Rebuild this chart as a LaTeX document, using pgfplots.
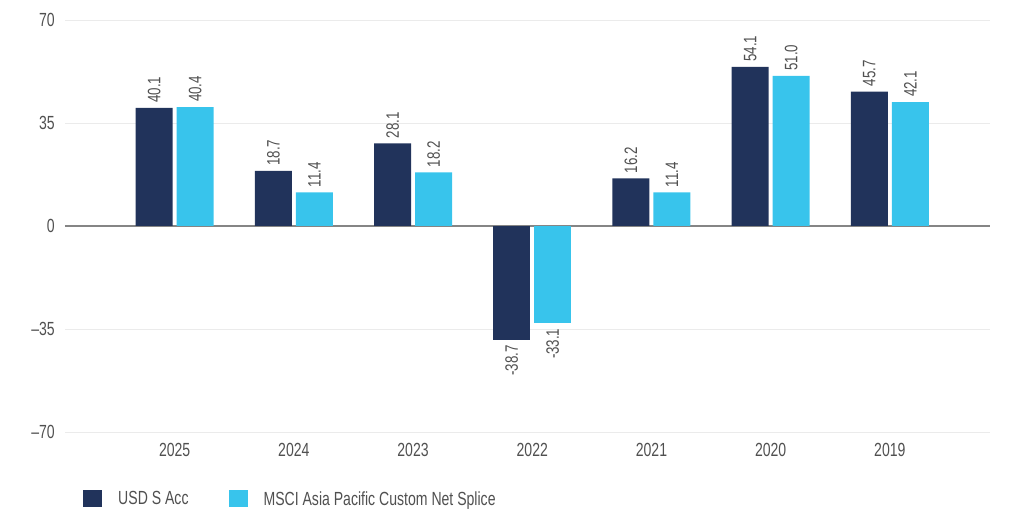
\documentclass[border=0pt]{standalone}
\usepackage{pgfplots}
\pgfplotsset{compat=1.18}
\usepackage{fontspec}
\setmainfont{Liberation Sans}[FakeStretch=0.74]
\definecolor{navy}{HTML}{21335B}
\definecolor{cyanb}{HTML}{38C4EC}
\definecolor{txt}{HTML}{505050}
\definecolor{gridc}{HTML}{EBEBEB}
\definecolor{zeroc}{HTML}{858585}
\begin{document}
\begin{tikzpicture}
\begin{axis}[
  scale only axis,
  width=925pt, height=412pt,
  xmin=-0.92, xmax=6.84,
  ymin=-70, ymax=70,
  ytick={-70,-35,0,35,70},
  yticklabels={{–70},{–35},0,35,70},
  xtick={0,1,2,3,4,5,6},
  xticklabels={2025,2024,2023,2022,2021,2020,2019},
  major tick length=0pt,
  axis line style={draw=none},
  ymajorgrids,
  grid style={gridc, line width=0.8pt},
  extra y ticks={0},
  extra y tick labels={},
  extra y tick style={grid style={zeroc, line width=1.6pt}},
  tick label style={font=\fontsize{19}{22}\selectfont, text=txt},
  yticklabel style={inner sep=0pt, anchor=east, xshift=-10pt},
  xticklabel style={inner sep=0pt, anchor=north, yshift=-11pt},
  /pgf/number format/assume math mode=true,
  ybar, bar width=37pt,
  nodes near coords,
  nodes near coords style={font=\fontsize{18}{20}\selectfont, text=txt, rotate=90, anchor=west, inner sep=0pt, inner xsep=5pt,
    /pgf/number format/fixed, /pgf/number format/fixed zerofill, /pgf/number format/precision=1, /pgf/number format/assume math mode=true},
  legend columns=2,
  legend style={at={(0.0195,-0.1626)}, anchor=west, draw=none, fill=none, inner sep=0pt,
    font=\fontsize{19}{22}\selectfont, text=txt,
    nodes={inner sep=0pt},
    /tikz/every odd column/.append style={column sep=16pt},
    /tikz/every even column/.append style={column sep=40pt}},
  legend image code/.code={\fill[#1] (0pt,-8.5pt) rectangle (19pt,8.5pt);},
]
\addplot[fill=navy, draw=none, bar shift=-20.5pt] coordinates {(0,40.1) (1,18.7) (2,28.1) (4,16.2) (5,54.1) (6,45.7)};
\addlegendentry{USD S Acc}
\addplot[fill=cyanb, draw=none, bar shift=20.5pt] coordinates {(0,40.4) (1,11.4) (2,18.2) (4,11.4) (5,51.0) (6,42.1)};
\addlegendentry{MSCI Asia Pacific Custom Net Splice}
\addplot[fill=navy, draw=none, bar shift=-20.5pt, forget plot, every node near coord/.append style={anchor=east}] coordinates {(3,-38.7)};
\addplot[fill=cyanb, draw=none, bar shift=20.5pt, forget plot, every node near coord/.append style={anchor=east}] coordinates {(3,-33.1)};
\end{axis}
\pgfresetboundingbox
\path[use as bounding box] ([xshift=-65pt,yshift=-78pt]current axis.south west) rectangle ([xshift=20pt,yshift=20pt]current axis.north east);
\end{tikzpicture}
\end{document}
